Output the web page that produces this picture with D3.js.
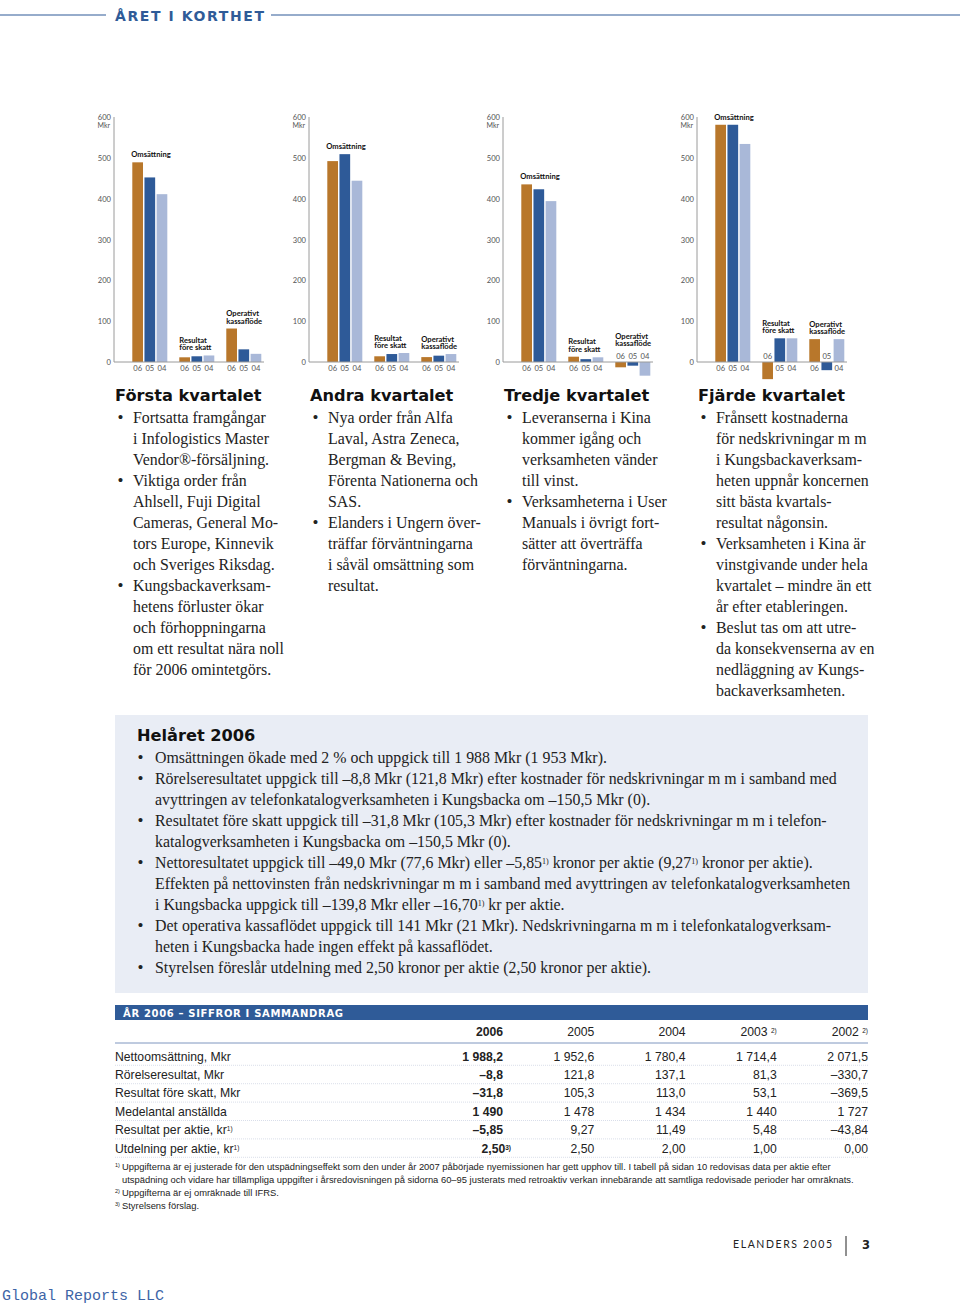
<!DOCTYPE html>
<html><head><meta charset="utf-8">
<script src="https://cdn.jsdelivr.net/npm/d3@7"></script>
<style>
html,body{margin:0;padding:0;background:#fff;}
svg{display:block;}
</style></head>
<body>
<svg id="page" width="960" height="1308"></svg>
<script>
// ---------- DATA ----------
const years = ["06", "05", "04"];
const categories = ["Omsättning", "Resultat före skatt", "Operativt kassaflöde"];
const categoryLabels = [["Omsättning"], ["Resultat", "före skatt"], ["Operativt", "kassaflöde"]];
const yTicks = [0, 100, 200, 300, 400, 500, 600];
const q1Values = [[489, 452, 411], [11.5, 14, 16], [82, 31, 20]];
const q2Values = [[492, 509, 444], [14, 19.5, 22], [12, 15.5, 19.5]];
const q3Values = [[435, 423, 394], [13, 7, 11.5], [-13, -9, -33.5]];
const q4Values = [[581, 581, 534], [-42, 58, 58], [56, -20, 56]];
const quarterValues = [q1Values, q2Values, q3Values, q4Values];
const quarterTitles = ["Första kvartalet", "Andra kvartalet", "Tredje kvartalet", "Fjärde kvartalet"];

const quarterText = [
  [["Fortsatta framgångar", "i Infologistics Master", "Vendor®-försäljning."],
   ["Viktiga order från", "Ahlsell, Fuji Digital", "Cameras, General Mo-", "tors Europe, Kinnevik", "och Sveriges Riksdag."],
   ["Kungsbackaverksam-", "hetens förluster ökar", "och förhoppningarna", "om ett resultat nära noll", "för 2006 omintetgörs."]],
  [["Nya order från Alfa", "Laval, Astra Zeneca,", "Bergman & Beving,", "Förenta Nationerna och", "SAS."],
   ["Elanders i Ungern över-", "träffar förväntningarna", "i såväl omsättning som", "resultat."]],
  [["Leveranserna i Kina", "kommer igång och", "verksamheten vänder", "till vinst."],
   ["Verksamheterna i User", "Manuals i övrigt fort-", "sätter att överträffa", "förväntningarna."]],
  [["Frånsett kostnaderna", "för nedskrivningar m m", "i Kungsbackaverksam-", "heten uppnår koncernen", "sitt bästa kvartals-", "resultat någonsin."],
   ["Verksamheten i Kina är", "vinstgivande under hela", "kvartalet – mindre än ett", "år efter etableringen."],
   ["Beslut tas om att utre-", "da konsekvenserna av en", "nedläggning av Kungs-", "backaverksamheten."]]
];

// superscripts marked with ^...^
const yearText = [
  ["Omsättningen ökade med 2 % och uppgick till 1 988 Mkr (1 953 Mkr)."],
  ["Rörelseresultatet uppgick till –8,8 Mkr (121,8 Mkr) efter kostnader för nedskrivningar m m i samband med",
   "avyttringen av telefonkatalogverksamheten i Kungsbacka om –150,5 Mkr (0)."],
  ["Resultatet före skatt uppgick till –31,8 Mkr (105,3 Mkr) efter kostnader för nedskrivningar m m i telefon-",
   "katalogverksamheten i Kungsbacka om –150,5 Mkr (0)."],
  ["Nettoresultatet uppgick till –49,0 Mkr (77,6 Mkr) eller –5,85^1)^ kronor per aktie (9,27^1)^ kronor per aktie).",
   "Effekten på nettovinsten från nedskrivningar m m i samband med avyttringen av telefonkatalogverksamheten",
   "i Kungsbacka uppgick till –139,8 Mkr eller –16,70^1)^ kr per aktie."],
  ["Det operativa kassaflödet uppgick till 141 Mkr (21 Mkr). Nedskrivningarna m m i telefonkatalogverksam-",
   "heten i Kungsbacka hade ingen effekt på kassaflödet."],
  ["Styrelsen föreslår utdelning med 2,50 kronor per aktie (2,50 kronor per aktie)."]
];

const tableYears = ["2006", "2005", "2004", "2003^2)^", "2002^2)^"];
const tableRows = ["Nettoomsättning, Mkr", "Rörelseresultat, Mkr", "Resultat före skatt, Mkr", "Medelantal anställda", "Resultat per aktie, kr^1)^", "Utdelning per aktie, kr^1)^"];
const tableValues = [
  ["1 988,2", "1 952,6", "1 780,4", "1 714,4", "2 071,5"],
  ["–8,8", "121,8", "137,1", "81,3", "–330,7"],
  ["–31,8", "105,3", "113,0", "53,1", "–369,5"],
  ["1 490", "1 478", "1 434", "1 440", "1 727"],
  ["–5,85", "9,27", "11,49", "5,48", "–43,84"],
  ["2,50^3)^", "2,50", "2,00", "1,00", "0,00"]
];
const footnotes = [
  ["1)", "Uppgifterna är ej justerade för den utspädningseffekt som den under år 2007 påbörjade nyemissionen har gett upphov till. I tabell på sidan 10 redovisas data per aktie efter",
         "utspädning och vidare har tillämpliga uppgifter i årsredovisningen på sidorna 60–95 justerats med retroaktiv verkan innebärande att samtliga redovisade perioder har omräknats."],
  ["2)", "Uppgifterna är ej omräknade till IFRS."],
  ["3)", "Styrelsens förslag."]
];

// ---------- STYLE ----------
const C06 = "#b8772b", C05 = "#2e5a98", C04 = "#a9b8d8";
const yearColor = d3.scaleOrdinal().domain(years).range([C06, C05, C04]);
const BLUE = "#2f5b98";
const SERIF = "'Liberation Serif', 'DejaVu Serif', serif";
const SANS = "Lato, 'Open Sans', sans-serif";
const HEAVY = "'DejaVu Sans', Lato, sans-serif";
const TSANS = "'Liberation Sans', Arial, sans-serif";
const BODY = 15.9;

const svg = d3.select("#page");

function richText(sel, str, supSize) {
  const parts = str.split("^");
  parts.forEach((p, i) => {
    if (!p) return;
    if (i % 2 === 1) {
      sel.append("tspan").attr("baseline-shift", "super").attr("font-size", supSize).text(p);
    } else {
      sel.append("tspan").text(p);
    }
  });
}

// ---------- HEADER ----------
const hdr = svg.append("g");
hdr.append("line").attr("x1", 0).attr("x2", 106).attr("y1", 15).attr("y2", 15).attr("stroke", BLUE).attr("stroke-width", 1.2);
hdr.append("line").attr("x1", 271).attr("x2", 960).attr("y1", 15).attr("y2", 15).attr("stroke", BLUE).attr("stroke-width", 1.2);
hdr.append("text").attr("x", 115).attr("y", 20.5).attr("font-family", HEAVY).attr("font-weight", 700)
  .attr("font-size", 14).attr("textLength", 149).attr("lengthAdjust", "spacing").attr("fill", BLUE).text("ÅRET I KORTHET");

// ---------- CHARTS ----------
const axisXs = [114, 309, 503, 697];
const y = d3.scaleLinear().domain([0, 600]).range([362, 117]);

quarterValues.forEach((vals, qi) => {
  const ax = axisXs[qi];
  const g = svg.append("g").attr("transform", `translate(${ax},0)`);
  const x0 = d3.scaleBand().domain(categories).range([18.3, 147.3]).paddingInner(0.255).paddingOuter(0);
  const x1 = d3.scaleBand().domain(years).range([0, x0.bandwidth()]).paddingInner(0.12).paddingOuter(0);

  g.selectAll(".yt").data(yTicks).join("text")
    .attr("x", -3).attr("y", d => y(d) + 3).attr("text-anchor", "end")
    .attr("font-family", SANS).attr("font-size", 7.6).attr("fill", "#555").text(d => d);
  g.append("text").attr("x", -4).attr("y", y(600) + 11).attr("text-anchor", "end")
    .attr("font-family", SANS).attr("font-size", 7).attr("fill", "#555").text("Mkr");

  g.append("line").attr("x1", 0).attr("x2", 0).attr("y1", y(600)).attr("y2", y(0)).attr("stroke", "#9a9a9a").attr("stroke-width", 1);

  categories.forEach((cat, ci) => {
    const gx = x0(cat);
    const cv = vals[ci];
    g.selectAll(".b" + ci).data(years).join("rect")
      .attr("x", d => gx + x1(d))
      .attr("width", x1.bandwidth())
      .attr("y", (d, i) => y(Math.max(0, cv[i])))
      .attr("height", (d, i) => Math.abs(y(cv[i]) - y(0)))
      .attr("fill", d => yearColor(d));
    g.selectAll(".yl" + ci).data(years).join("text")
      .attr("x", d => gx + x1(d) + x1.bandwidth() / 2)
      .attr("y", (d, i) => cv[i] < 0 ? y(0) - 3 : y(0) + 9)
      .attr("text-anchor", "middle").attr("font-family", SANS).attr("font-size", 7.6).attr("fill", "#555")
      .text(d => d);
    const anyNeg = cv.some(v => v < 0);
    const maxTop = y(Math.max(0, d3.max(cv)));
    const ref = Math.min(maxTop, anyNeg ? y(0) - 11 : maxTop);
    const lines = categoryLabels[ci];
    const lh = 7.5;
    const t = g.append("text").attr("font-family", SANS).attr("font-weight", 700).attr("font-size", 7.6).attr("fill", "#111");
    lines.forEach((ln, li) => {
      t.append("tspan").attr("x", gx - (ci === 0 ? 1 : 0)).attr("y", ref - 5 - (lines.length - 1 - li) * lh).text(ln);
    });
  });

  g.append("line").attr("x1", 0).attr("x2", 150).attr("y1", y(0)).attr("y2", y(0)).attr("stroke", "#9a9a9a").attr("stroke-width", 1);

  const tg = svg.append("g").attr("transform", `translate(${ax + 1},0)`);
  tg.append("text").attr("x", 0).attr("y", 401).attr("font-family", HEAVY).attr("font-weight", 700)
    .attr("font-size", 16.2).attr("fill", "#111").text(quarterTitles[qi]);
  let line = 0;
  quarterText[qi].forEach(item => {
    tg.append("text").attr("x", 2.5).attr("y", 423 + line * 21).attr("font-family", SERIF).attr("font-size", 17).attr("fill", "#222").text("•");
    item.forEach(txt => {
      tg.append("text").attr("x", 18).attr("y", 423 + line * 21).attr("font-family", SERIF).attr("font-size", BODY)
        .attr("fill", "#222").text(txt);
      line++;
    });
  });
});

// ---------- HELÅRET BOX ----------
svg.append("rect").attr("x", 115).attr("y", 715).attr("width", 753).attr("height", 278).attr("fill", "#e9edf5");
svg.append("text").attr("x", 137).attr("y", 741).attr("font-family", HEAVY).attr("font-weight", 700)
  .attr("font-size", 16.2).attr("fill", "#111").text("Helåret 2006");
{
  let line = 0;
  yearText.forEach(item => {
    svg.append("text").attr("x", 137.5).attr("y", 763 + line * 21).attr("font-family", SERIF).attr("font-size", 17).attr("fill", "#222").text("•");
    item.forEach(txt => {
      const t = svg.append("text").attr("x", 155).attr("y", 763 + line * 21).attr("font-family", SERIF)
        .attr("font-size", BODY).attr("fill", "#222");
      richText(t, txt, 8);
      line++;
    });
  });
}

// ---------- TABLE ----------
svg.append("rect").attr("x", 115).attr("y", 1005).attr("width", 753).attr("height", 15).attr("fill", BLUE);
svg.append("text").attr("x", 123).attr("y", 1016.5).attr("font-family", HEAVY).attr("font-weight", 700)
  .attr("font-size", 10).attr("textLength", 220).attr("lengthAdjust", "spacing").attr("fill", "#fff").text("ÅR 2006 – SIFFROR I SAMMANDRAG");

const colX = d3.scalePoint().domain(d3.range(tableYears.length)).range([503, 868]);
const rowY = d3.scalePoint().domain(d3.range(tableRows.length)).range([1060.5, 1152.5]);
const TFS = 12.2;

tableYears.forEach((yr, i) => {
  const t = svg.append("text").attr("x", colX(i)).attr("y", 1035.5).attr("text-anchor", "end")
    .attr("font-family", TSANS).attr("font-size", TFS).attr("fill", "#222")
    .attr("font-weight", i === 0 ? 700 : 400);
  richText(t, yr.replace("^", " ^"), 6.5);
});
svg.append("line").attr("x1", 115).attr("x2", 868).attr("y1", 1043).attr("y2", 1043).attr("stroke", "#7f96bf").attr("stroke-width", 1);

tableRows.forEach((r, ri) => {
  const ty = rowY(ri);
  const lt = svg.append("text").attr("x", 115).attr("y", ty).attr("font-family", TSANS).attr("font-size", TFS).attr("fill", "#222");
  richText(lt, r, 6.5);
  tableValues[ri].forEach((v, ci) => {
    const hasSup = v.includes("^");
    const t = svg.append("text").attr("x", colX(ci) + (hasSup ? 8 : 0)).attr("y", ty).attr("text-anchor", "end")
      .attr("font-family", TSANS).attr("font-size", TFS).attr("fill", "#222")
      .attr("font-weight", ci === 0 ? 700 : 400);
    richText(t, v, 6.5);
  });
  svg.append("line").attr("x1", 115).attr("x2", 868).attr("y1", ty + 4.8).attr("y2", ty + 4.8)
    .attr("stroke", "#cfd6e4").attr("stroke-width", 0.8).attr("stroke-dasharray", "1,1");
});

// ---------- FOOTNOTES ----------
{
  let fy = 1170;
  footnotes.forEach(f => {
    svg.append("text").attr("x", 115).attr("y", fy - 3).attr("font-family", TSANS).attr("font-size", 5.5).attr("fill", "#222").text(f[0]);
    for (let k = 1; k < f.length; k++) {
      svg.append("text").attr("x", 122).attr("y", fy).attr("font-family", TSANS).attr("font-size", 9.4).attr("fill", "#222").text(f[k]);
      fy += 13;
    }
  });
}

// ---------- FOOTER ----------
svg.append("text").attr("x", 733).attr("y", 1248).attr("font-family", SANS).attr("font-size", 10.5)
  .attr("textLength", 99).attr("lengthAdjust", "spacing").attr("fill", "#222").text("ELANDERS 2005");
svg.append("line").attr("x1", 846).attr("x2", 846).attr("y1", 1236).attr("y2", 1256).attr("stroke", "#222").attr("stroke-width", 1);
svg.append("text").attr("x", 862).attr("y", 1248.5).attr("font-family", HEAVY).attr("font-weight", 700).attr("font-size", 11.5).attr("fill", "#222").text("3");

svg.append("text").attr("x", 2).attr("y", 1300).attr("font-family", "'Liberation Mono', 'DejaVu Sans Mono', monospace")
  .attr("font-size", 15).attr("fill", "#3d64a6").text("Global Reports LLC");
</script>
</body></html>
